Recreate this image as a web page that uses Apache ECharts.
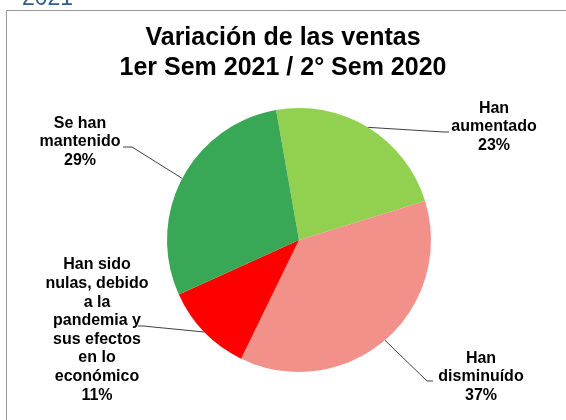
<!DOCTYPE html>
<html>
<head>
<meta charset="utf-8">
<script src="https://cdn.jsdelivr.net/npm/echarts@6/dist/echarts.min.js"></script>
<style>
  html, body { margin: 0; padding: 0; background: #fff; }
  #pie-chart { width: 566px; height: 420px; }
</style>
</head>
<body>
<div id="pie-chart"></div>
<script>
// datos del gráfico
const categories = [
  'Han\naumentado',
  'Han\ndisminuído',
  'Han sido\nnulas, debido\na la\npandemia y\nsus efectos\nen lo\neconómico',
  'Se han\nmantenido'
];
const shares = [23, 37, 11, 29];
const sliceColors = ['#92D050', '#F2918A', '#FF0000', '#38A856'];
const titleLines = ['Variación de las ventas', '1er Sem 2021 / 2° Sem 2020'];

// posiciones de las etiquetas y de sus líneas guía
const labelPos = [[494, 127], [481, 377], [97, 330], [80, 142]];
const leaderEnds = [
  [[444, 132], [449, 132]],
  [[427, 381], [433, 381]],
  [[143, 326], [138, 326]],
  [[132, 147], [123, 147]]
];

const pieChart = echarts.init(document.getElementById('pie-chart'));

let option = {
  animation: false,
  backgroundColor: '#fff',
  title: {
    text: titleLines.join('\n'),
    left: 'center',
    top: 18,
    textStyle: {
      fontFamily: 'Liberation Sans',
      fontSize: 25,
      fontWeight: 'bold',
      lineHeight: 30,
      color: '#000'
    }
  },
  graphic: [
    { // marco del gráfico
      type: 'rect',
      shape: { x: 6.5, y: 10.5, width: 580, height: 500 },
      style: { fill: 'none', stroke: '#999', lineWidth: 1 },
      silent: true
    },
    { // resto del título de la diapositiva (cortado arriba)
      type: 'text',
      x: 22,
      y: -1,
      style: {
        text: '2021',
        fontFamily: 'Liberation Sans',
        fontSize: 23,
        fill: '#2E5C95',
        verticalAlign: 'middle'
      },
      silent: true
    }
  ],
  series: [
    {
      type: 'pie',
      center: [299, 240],
      radius: 132,
      startAngle: 100,
      clockwise: true,
      avoidLabelOverlap: false,
      silent: true,
      data: categories.map((name, i) => ({
        name: name,
        value: shares[i],
        itemStyle: { color: sliceColors[i] }
      })),
      label: {
        show: true,
        position: 'outside',
        formatter: '{b}\n{d}%',
        fontFamily: 'Liberation Sans',
        fontSize: 16,
        fontWeight: 'bold',
        lineHeight: 18.6,
        color: '#000',
        align: 'center'
      },
      labelLine: {
        show: true,
        lineStyle: { color: '#404040', width: 1 }
      },
      labelLayout: function (params) {
        const i = params.dataIndex;
        const start = params.labelLinePoints ? params.labelLinePoints[0] : null;
        const out = {
          x: labelPos[i][0],
          y: labelPos[i][1],
          align: 'center',
          verticalAlign: 'middle'
        };
        if (start) {
          out.labelLinePoints = [start, leaderEnds[i][0], leaderEnds[i][1]];
        }
        return out;
      }
    }
  ]
};

pieChart.setOption(option);
</script>
</body>
</html>
